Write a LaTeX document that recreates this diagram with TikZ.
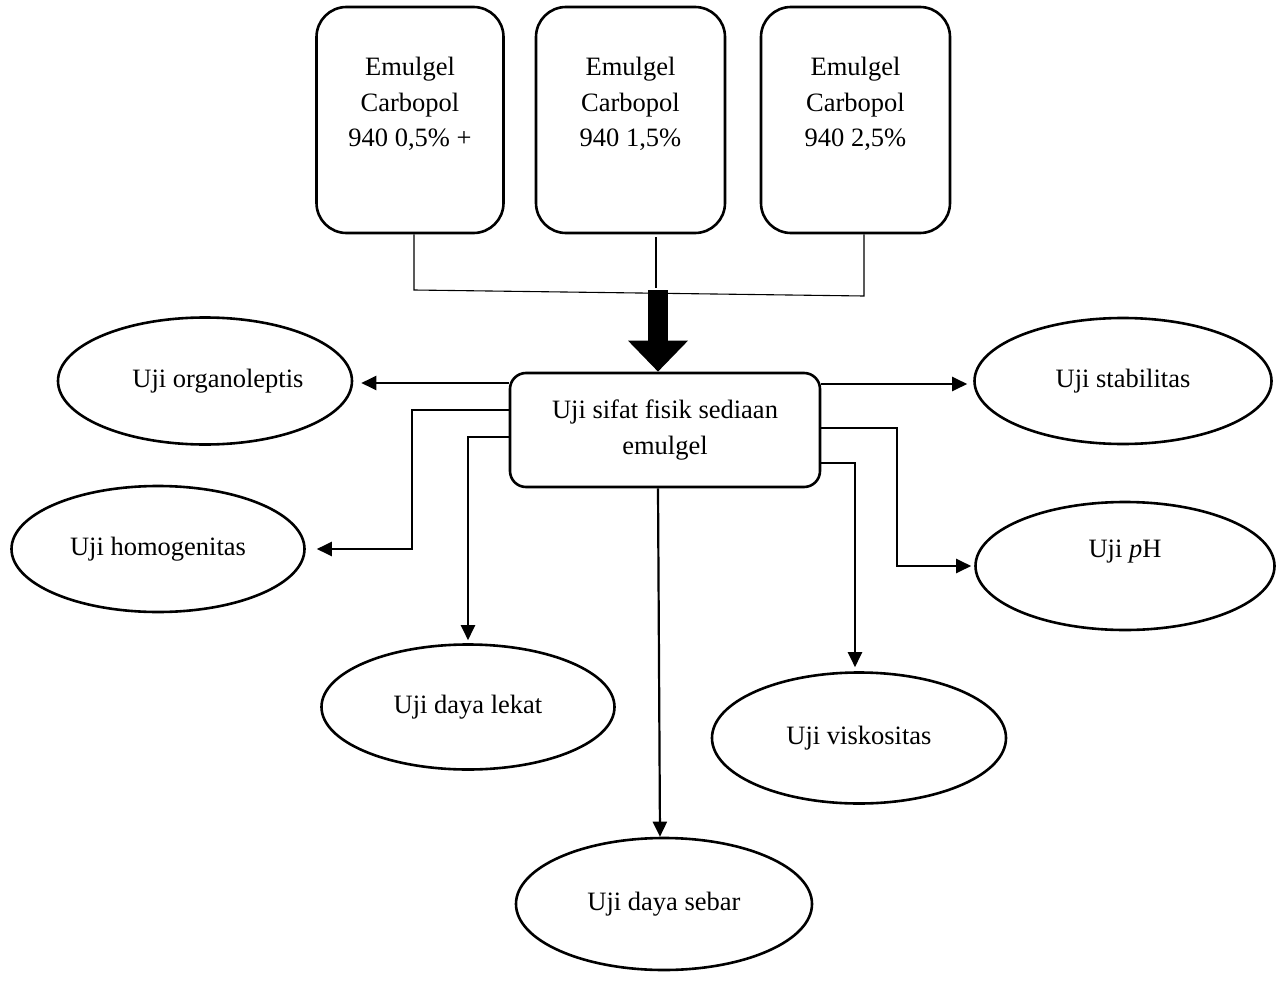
\documentclass[tikz,border=0pt]{standalone}
\usepackage{fontspec}
\setmainfont{Liberation Serif}
\usetikzlibrary{shapes.geometric,arrows.meta,calc}
\begin{document}
\begin{tikzpicture}[x=1pt,y=-1pt,
  font=\fontsize{26.5}{35.5}\selectfont,
  topbox/.style={draw,line width=2.6pt,rounded corners=30pt,minimum width=187pt,minimum height=226pt,align=center,inner sep=0pt},
  mainbox/.style={draw,line width=2.6pt,rounded corners=16pt,minimum width=310pt,minimum height=114pt,align=center,inner sep=0pt},
  oval/.style={draw,ellipse,line width=2.6pt,minimum width=294pt,minimum height=127pt,inner sep=0pt},
  conn/.style={line width=2.2pt,-{Triangle[length=15pt,width=14pt]}},
  bracket/.style={line width=1.1pt}]
\useasboundingbox (0,0) rectangle (1283,982);

% top boxes
\node[topbox] (b1) at (410,120) {Emulgel\\Carbopol\\940 0,5\% +\\\mbox{}};
\node[topbox,minimum width=189pt] (b2) at (630.5,120) {Emulgel\\Carbopol\\940 1,5\%\\\mbox{}};
\node[topbox,minimum width=189pt] (b3) at (855.5,120) {Emulgel\\Carbopol\\940 2,5\%\\\mbox{}};

% central box
\node[mainbox] (c) at (665,430) {Uji sifat fisik sediaan\\emulgel};

% bracket
\coordinate (k1) at (414,290);
\coordinate (k2) at (656,288);
\coordinate (k3) at (864,296);
\draw[bracket] (b1.south -| k1) -- (k1) -- (k3) -- (b3.south -| k3);
\draw[bracket] ([yshift=-3pt]b2.south -| k2) -- (k2);

% thick arrow
\coordinate (ta) at (658,290);
\draw[line width=20pt,-{Triangle[length=31pt,width=58pt]}] (ta) -- (c.north -| ta);

% ellipses
\node[oval] (org) at (205,381) {\hspace*{26pt}Uji organoleptis};
\node[oval,minimum width=293pt,minimum height=126pt] (hom) at (158,549) {Uji homogenitas};
\node[oval,minimum width=293pt,minimum height=125pt] (lek) at (468,707) {Uji daya lekat};
\node[oval,minimum width=296pt,minimum height=132pt] (seb) at (664,904) {Uji daya sebar};
\node[oval,minimum width=294pt,minimum height=131pt] (vis) at (859,738) {Uji viskositas};
\node[oval,minimum width=299pt,minimum height=128pt,text depth=34pt] (ph) at (1125,566) {Uji \textit{p}H};
\node[oval,minimum width=297pt,minimum height=126pt] (stab) at (1123,381) {Uji stabilitas};

% connectors
\draw[conn,shorten >=8pt] (c.west |- 0,383) -- (org.east |- 0,383);
\draw[conn,shorten >=6pt] (c.east |- 0,384) -- (stab.west |- 0,384);
\draw[conn,shorten >=11pt] (c.west |- 0,410) -| ([xshift=106pt]hom.east) -- (hom.east);
\draw[conn,shorten >=3pt] (c.west |- 0,437) -| (lek.north);
\draw[conn] ([xshift=-7pt]c.south) -- ([xshift=-4pt]seb.north);
\draw[conn,shorten >=4pt] (c.east |- 0,463) -| ([xshift=-4pt]vis.north);
\draw[conn,shorten >=3pt] (c.east |- 0,428) -| ([xshift=-77pt]ph.west) -- (ph.west);
\end{tikzpicture}
\end{document}
